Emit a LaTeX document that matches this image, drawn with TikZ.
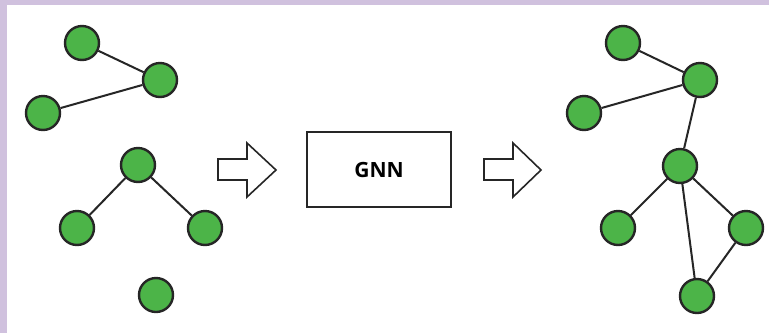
\documentclass[tikz,border=0pt]{standalone}
\usepackage{fontspec}
\setsansfont{Open Sans}
\definecolor{framelila}{RGB}{208,193,222}
\definecolor{nodegreen}{RGB}{76,180,72}

\begin{document}
\begin{tikzpicture}[x=1pt, y=-1pt,
		vertex/.style={circle, draw=black!85, line width=2.4pt, fill=nodegreen, minimum size=34pt, inner sep=0pt},
		edge/.style={draw=black!85, line width=2pt},
		bigarrow/.style={draw=black!85, line width=1.6pt, fill=white, line join=miter}
	]
	% Rahmen
	\fill[white] (0, 0) rectangle (769, 333);
	\fill[framelila] (0, 0) rectangle (769, 5);
	\fill[framelila] (0, 0) rectangle (7, 333);
	\useasboundingbox (0, 0) rectangle (769, 333);

	% Eingabegraphen
	\node[vertex] (a1) at (82, 43) {};
	\node[vertex] (a2) at (160, 80) {};
	\node[vertex] (a3) at (43, 113) {};
	\node[vertex] (b1) at (138, 165) {};
	\node[vertex] (b2) at (77, 228) {};
	\node[vertex] (b3) at (205, 228) {};
	\node[vertex] (c1) at (156, 295) {};
	\draw[edge] (a1) -- (a2);
	\draw[edge] (a2) -- (a3);
	\draw[edge] (b1) -- (b2);
	\draw[edge] (b1) -- (b3);

	% Pfeile und GNN-Block
	\draw[bigarrow] (218, 159) -- (247, 159) -- (247, 143) -- (276, 170) -- (247, 197) -- (247, 180) -- (218, 180) -- cycle;
	\node[draw=black!85, line width=1.8pt, minimum width=144pt, minimum height=75pt, font=\sffamily\bfseries\fontsize{21}{21}\selectfont] (gnn) at (379, 169.5) {GNN};
	\draw[bigarrow] (484, 159) -- (513, 159) -- (513, 143) -- (541, 170) -- (513, 197) -- (513, 180) -- (484, 180) -- cycle;

	% Ausgabegraph
	\node[vertex] (r1) at (623, 43) {};
	\node[vertex] (r2) at (700, 80) {};
	\node[vertex] (r3) at (584, 113) {};
	\node[vertex] (r4) at (680, 166) {};
	\node[vertex] (r5) at (618, 228) {};
	\node[vertex] (r6) at (746, 228) {};
	\node[vertex] (r7) at (697, 296) {};
	\draw[edge] (r1) -- (r2);
	\draw[edge] (r2) -- (r3);
	\draw[edge] (r2) -- (r4);
	\draw[edge] (r4) -- (r5);
	\draw[edge] (r4) -- (r6);
	\draw[edge] (r4) -- (r7);
	\draw[edge] (r6) -- (r7);
\end{tikzpicture}
\end{document}
